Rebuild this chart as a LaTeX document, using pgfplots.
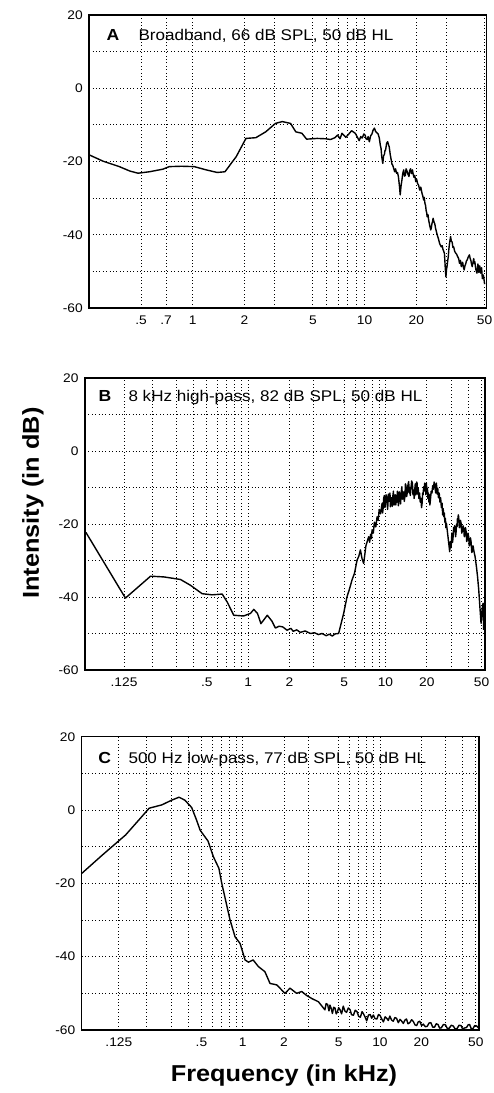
\documentclass[border=0pt]{standalone}
\usepackage{pgfplots}
\pgfplotsset{compat=1.18}
\usepackage{fontspec}
\setmainfont{Liberation Sans}[FakeStretch=1.1]

\pgfplotsset{
  myspectrum/.style={
    scale only axis, anchor=south west,
    ymin=-60, ymax=20,
    ytick={-60,-40,-20,0,20},
    yticklabels={-60,-40,-20,0,20},
    minor ytick={-50,-30,-10,10},
    grid=both,
    major grid style={black, line width=0.8pt, dash pattern=on 0.8pt off 2.6pt},
    minor grid style={black, line width=0.8pt, dash pattern=on 0.8pt off 2.6pt},
    axis line style={line width=1.6pt},
    major tick length=0pt, minor tick length=0pt,
    tick label style={font=\fontsize{12.5}{13}\selectfont},
    xticklabel style={yshift=-4pt},
    yticklabel style={xshift=-3pt},
  },
}
\tikzset{
  mycurve/.style={black, line width=1.4pt, line join=round},
  myttl/.style={anchor=base west, font=\fontsize{15.5}{16}\selectfont},
  myltr/.style={anchor=base west, font=\fontsize{16}{16}\selectfont\bfseries},
}

\begin{document}
\begin{tikzpicture}
\useasboundingbox (0pt,0pt) rectangle (493pt,1093pt);

% ---------------- Panel A ----------------
\begin{axis}[xmode=log, myspectrum, at={(89.3pt,785pt)}, width=397.4pt, height=293pt,
  xmin=0.25, xmax=51.4,
  xtick={0.5,0.7,1,2,5,10,20,50}, xticklabels={.5,.7,1,2,5,10,20,50},
  minor xtick={3,6,7,8,9,30}]
\addplot[mycurve] coordinates {
(0.25,-18.2) (0.30,-19.9) (0.374,-21.4) (0.43,-22.6) (0.48,-23.2) (0.56,-22.8)
(0.67,-22.1) (0.73,-21.4) (0.86,-21.3) (1.02,-21.4) (1.2,-22.3) (1.39,-23.0)
(1.54,-22.8) (1.79,-18.7) (2.04,-13.7) (2.33,-13.5) (2.66,-11.9) (3.03,-9.6)
(3.32,-9.1) (3.71,-9.6) (3.98,-11.9) (4.32,-12.3) (4.6,-13.9) (5.3,-13.7)
(5.95,-13.8) (6.34,-14.0) (6.72,-13.5) (6.97,-12.8) (7.2,-13.8) (7.39,-12.3)
(7.78,-13.4) (8.06,-12.6) (8.41,-11.6) (8.83,-12.3) (9.31,-14.3) (9.5,-13.2)
(9.7,-13.6) (9.9,-12.5) (10.08,-12.8) (10.2,-13.8) (10.37,-14.0) (10.5,-13.2)
(10.66,-14.6) (10.85,-13.0) (11.04,-12.5) (11.2,-11.5) (11.42,-10.9) (11.6,-11.8)
(11.81,-12.2) (12.0,-12.5) (12.19,-13.6) (12.35,-15.5) (12.48,-16.5) (12.6,-18.8)
(12.77,-20.5) (12.9,-18.5) (13.06,-18.0) (13.15,-17.0) (13.25,-16.9) (13.45,-15.0)
(13.63,-14.6) (13.8,-15.5) (13.92,-16.0) (14.1,-18.0) (14.3,-19.6) (14.45,-20.8)
(14.59,-21.0) (14.8,-22.0) (14.98,-22.8) (15.15,-22.0) (15.36,-23.2) (15.55,-23.0)
(15.74,-24.1) (15.95,-26.5) (16.13,-29.1) (16.3,-26.8) (16.51,-25.0) (16.7,-23.2)
(16.9,-22.3) (17.1,-24.0) (17.28,-23.8) (17.45,-22.0) (17.66,-22.6) (17.9,-23.5)
(18.14,-24.1) (18.3,-22.5) (18.53,-22.0) (18.75,-23.3) (19.01,-22.3) (19.2,-23.5)
(19.39,-24.3) (19.6,-23.8) (19.87,-25.5) (20.1,-24.8) (20.35,-26.0) (20.65,-26.5)
(20.93,-27.8) (21.25,-27.0) (21.6,-28.7) (21.85,-29.5) (22.08,-30.5) (22.25,-29.8)
(22.46,-31.4) (22.65,-32.0) (22.85,-33.5) (23.0,-34.0) (23.14,-35.1) (23.4,-34.5)
(23.62,-36.0) (23.95,-37.5) (24.29,-38.7) (24.5,-38.0) (24.67,-37.0) (24.85,-36.5)
(25.06,-35.5) (25.35,-36.5) (25.63,-37.0) (25.9,-38.2) (26.21,-39.2) (26.55,-40.2)
(26.88,-41.0) (27.4,-42.5) (27.94,-43.3) (28.3,-43.0) (28.61,-44.0) (28.9,-44.5)
(29.18,-45.1) (29.45,-48.5) (29.76,-51.5) (30.0,-49.5) (30.24,-48.5) (30.5,-47.0)
(30.72,-46.0) (30.95,-44.0) (31.2,-42.5) (31.45,-41.5) (31.68,-40.5) (32.0,-41.8)
(32.35,-42.0) (32.7,-43.5) (33.02,-43.3) (33.45,-44.5) (33.89,-45.0) (34.35,-45.3)
(34.85,-46.0) (35.3,-46.5) (35.71,-47.8) (36.15,-47.0) (36.58,-48.7) (36.9,-48.0)
(37.25,-47.5) (37.6,-48.8) (38.02,-49.6) (38.4,-48.5) (38.78,-48.0) (39.15,-47.2)
(39.55,-46.9) (40.2,-46.0) (40.8,-45.5) (41.2,-46.5) (41.57,-47.0) (41.95,-48.0)
(42.34,-48.7) (42.8,-47.5) (43.2,-46.5) (43.5,-47.8) (43.87,-47.4) (44.15,-48.5)
(44.45,-49.5) (44.8,-50.0) (45.12,-50.5) (45.4,-49.2) (45.7,-48.0) (46.0,-49.0)
(46.27,-50.3) (46.8,-48.5) (47.5,-50.5) (48.0,-49.0) (48.5,-52.0) (49.2,-51.0)
(50.0,-53.5)
};
\node[myltr] at (rel axis cs:0.035,0.912) {A};
\node[myttl] at (rel axis cs:0.115,0.912) {Broadband, 66 dB SPL, 50 dB HL};
\end{axis}

% ---------------- Panel B ----------------
\begin{axis}[xmode=log, myspectrum, at={(85pt,423pt)}, width=400pt, height=292pt,
  xmin=0.065, xmax=53,
  xtick={0.125,0.5,1,2,5,10,20,50}, xticklabels={.125,.5,1,2,5,10,20,50},
  minor xtick={0.2,0.3,0.4,0.6,0.7,0.8,0.9,3,6,7,8,9,30,40}]
\addplot[mycurve] coordinates {
(0.066,-22.3) (0.128,-40.3) (0.195,-34.3) (0.244,-34.5) (0.322,-35.2) (0.381,-36.8)
(0.463,-39.1) (0.547,-39.4) (0.648,-39.2) (0.705,-41.4) (0.786,-45.0) (0.928,-45.2)
(1.04,-44.5) (1.10,-43.4) (1.17,-44.5) (1.24,-47.3) (1.38,-45.0) (1.49,-46.6)
(1.58,-48.5) (1.68,-48.0) (1.79,-48.2) (1.92,-49.1) (2.05,-48.6) (2.13,-49.4)
(2.26,-49.0) (2.40,-49.7) (2.6,-49.3) (2.84,-50.0) (3.05,-49.8) (3.25,-50.3)
(3.45,-50.0) (3.7,-50.6) (3.9,-50.2) (4.1,-50.7) (4.3,-50.1) (4.56,-50.0)
(4.96,-44.5) (5.25,-39.9) (5.45,-38.0) (5.71,-35.3) (5.95,-33.5) (6.21,-29.9)
(6.4,-28.8) (6.57,-27.1) (6.75,-29.5) (6.94,-30.8) (7.2,-26.0) (7.54,-23.5)
(7.67,-25.0) (7.8,-22.8) (7.9,-24.0) (7.99,-21.6) (8.15,-22.5) (8.3,-19.5)
(8.5,-20.8) (8.69,-18.0) (8.85,-19.0) (9.0,-16.0) (9.2,-17.2) (9.45,-14.3)
(9.53,-17.0) (9.6,-15.8) (9.7,-13.0) (9.8,-12.2) (9.9,-15.5) (10.0,-14.5)
(10.1,-12.0) (10.27,-13.0) (10.35,-16.0) (10.4,-15.0) (10.5,-11.8) (10.6,-13.8)
(10.7,-13.5) (10.78,-11.5) (10.86,-15.3) (10.95,-13.0) (11.1,-12.8) (11.2,-15.2)
(11.3,-12.5) (11.42,-11.0) (11.55,-14.8) (11.68,-12.5) (11.81,-12.0) (11.88,-14.8)
(11.95,-13.5) (12.1,-14.0) (12.2,-11.0) (12.3,-11.8) (12.4,-15.0) (12.48,-14.3)
(12.6,-11.2) (12.75,-12.5) (12.88,-14.5) (13.0,-11.5) (13.15,-9.8) (13.3,-13.2)
(13.45,-12.0) (13.57,-11.2) (13.7,-13.8) (13.85,-12.5) (13.97,-9.0) (14.1,-9.5)
(14.25,-12.5) (14.4,-11.5) (14.58,-9.2) (14.75,-8.4) (14.88,-11.5) (15.0,-10.0)
(15.15,-12.2) (15.3,-10.5) (15.5,-8.2) (15.7,-8.8) (15.85,-12.0) (16.04,-10.7)
(16.15,-13.0) (16.3,-12.0) (16.4,-9.5) (16.5,-9.0) (16.62,-12.0) (16.75,-11.0)
(16.85,-8.5) (16.98,-8.8) (17.15,-11.8) (17.3,-10.2) (17.5,-13.0) (17.7,-11.5)
(17.9,-14.0) (18.1,-13.0) (18.3,-15.5) (18.47,-14.3) (18.65,-11.5) (18.8,-12.0)
(18.95,-9.8) (19.1,-11.0) (19.3,-8.8) (19.5,-9.8) (19.7,-12.0) (19.85,-8.8)
(20.0,-11.0) (20.2,-10.2) (20.35,-13.0) (20.5,-11.5) (20.7,-14.0) (20.9,-12.0)
(21.05,-14.8) (21.23,-13.4) (21.5,-11.0) (21.8,-11.5) (22.05,-9.5) (22.3,-10.5)
(22.6,-8.5) (22.9,-9.5) (23.2,-11.5) (23.48,-8.8) (23.75,-11.8) (24.0,-10.2)
(24.3,-12.8) (24.6,-11.5) (24.9,-14.0) (25.2,-12.8) (25.5,-15.5) (25.82,-14.3)
(26.05,-17.5) (26.3,-15.8) (26.55,-18.0) (26.8,-17.0) (27.05,-19.5) (27.3,-18.5)
(27.5,-21.0) (27.75,-19.8) (28.1,-21.5) (28.5,-23.5) (28.9,-25.5) (29.33,-27.6)
(29.55,-25.0) (29.8,-24.8) (30.0,-26.5) (30.2,-25.0) (30.4,-22.5) (30.6,-23.0)
(30.8,-25.0) (31.05,-23.5) (31.3,-21.0) (31.6,-22.0) (31.85,-20.5) (32.1,-21.5)
(32.35,-23.5) (32.6,-22.5) (32.9,-20.0) (33.2,-20.7) (33.4,-18.5) (33.6,-19.5)
(33.85,-17.5) (34.1,-18.0) (34.45,-21.0) (34.8,-20.5) (35.15,-19.0) (35.5,-19.8)
(35.9,-22.5) (36.3,-21.8) (36.7,-20.5) (37.1,-21.2) (37.45,-23.5) (37.8,-22.8)
(38.2,-21.0) (38.6,-22.0) (39.0,-24.8) (39.4,-24.2) (39.85,-22.5) (40.3,-23.5)
(40.7,-26.0) (41.1,-25.5) (41.55,-23.8) (42.0,-25.0) (42.45,-27.8) (42.9,-27.5)
(43.4,-26.0) (43.85,-27.1) (44.9,-29.0) (45.9,-31.7) (46.8,-34.5) (47.7,-38.0)
(48.8,-43.5) (49.6,-47.2) (50.5,-43.5) (51.3,-41.7) (51.8,-49.0)
};
\node[myltr] at (rel axis cs:0.025,0.919) {B};
\node[myttl] at (rel axis cs:0.1,0.919) {8 kHz high-pass, 82 dB SPL, 50 dB HL};
\end{axis}

% ---------------- Panel C ----------------
\begin{axis}[xmode=log, myspectrum, at={(81.7pt,63pt)}, width=397.3pt, height=293.3pt,
  xmin=0.067, xmax=52.7,
  xtick={0.125,0.5,1,2,5,10,20,50}, xticklabels={.125,.5,1,2,5,10,20,50},
  minor xtick={0.2,0.3,0.4,0.6,0.7,0.8,0.9,3,6,7,8,9,30,40}]
\addplot[mycurve] coordinates {
(0.067,-17.3) (0.0946,-12.3) (0.14,-6.8) (0.175,-2.7) (0.208,0.5) (0.257,1.4)
(0.304,2.7) (0.343,3.5) (0.378,2.7) (0.424,0.7) (0.46,-2.7) (0.489,-5.5)
(0.559,-8.5) (0.61,-12.7) (0.67,-15.9) (0.703,-20.0) (0.808,-30.0) (0.879,-34.6)
(0.956,-36.4) (1.04,-40.9) (1.1,-41.5) (1.19,-40.9) (1.3,-42.7) (1.45,-44.1)
(1.58,-47.3) (1.77,-47.7) (2.03,-50.0) (2.21,-48.6) (2.47,-50.0) (2.69,-49.5)
(2.9,-50.5) (3.18,-51.4) (3.56,-52.3) (3.97,-54.5) (4.05,-52.8) (4.15,-53.0)
(4.25,-54.8) (4.32,-53.2) (4.42,-54.2) (4.5,-55.5) (4.6,-53.8) (4.7,-54.0)
(4.8,-55.6) (4.9,-55.0) (5.0,-53.9) (5.12,-54.5) (5.25,-55.6) (5.4,-53.5)
(5.55,-54.8) (5.7,-55.2) (5.88,-54.0) (6.06,-54.5) (6.2,-55.8) (6.4,-56.0)
(6.6,-54.6) (6.8,-55.0) (7.0,-56.3) (7.2,-56.5) (7.4,-55.0) (7.56,-55.5)
(7.78,-56.4) (8.0,-57.5) (8.25,-55.9) (8.5,-55.8) (8.7,-56.8) (8.95,-55.9)
(9.2,-56.9) (9.5,-57.0) (9.75,-55.8) (10.0,-56.0) (10.3,-57.0) (10.6,-57.8)
(10.9,-56.4) (11.2,-56.8) (11.5,-57.4) (11.8,-56.2) (12.15,-57.3) (12.5,-57.6)
(12.85,-56.6) (13.2,-56.8) (13.6,-58.0) (14.0,-57.1) (14.4,-57.6) (14.8,-58.2)
(15.2,-57.3) (15.6,-57.0) (16.0,-58.3) (16.5,-58.0) (17.0,-57.2) (17.5,-57.7)
(18.0,-58.6) (18.5,-58.8) (19.0,-57.8) (19.5,-57.6) (20.1,-58.8) (20.7,-58.4)
(21.4,-59.1) (22.1,-59.0) (22.8,-58.1) (23.5,-58.0) (24.2,-59.2) (25.0,-59.2)
(25.7,-58.3) (26.5,-58.5) (27.2,-59.5) (28.0,-59.4) (29.0,-58.5) (30.0,-58.6)
(31.0,-59.6) (32.0,-59.5) (33.1,-58.7) (34.2,-58.9) (35.3,-59.7) (36.5,-59.6)
(37.7,-58.7) (39.0,-58.8) (40.0,-59.7) (41.0,-59.5) (42.8,-59.3) (43.9,-58.6)
(45.0,-58.5) (46.2,-59.6) (47.5,-59.7) (49.0,-58.8) (50.7,-58.9) (52.5,-59.5)
};
\node[myltr] at (rel axis cs:0.033,0.909) {C};
\node[myttl] at (rel axis cs:0.109,0.909) {500 Hz low-pass, 77 dB SPL, 50 dB HL};
\end{axis}

\node[rotate=90, font=\fontsize{23}{24}\selectfont\bfseries] at (33pt,590pt) {Intensity (in dB)};
\node[anchor=base, font=\fontsize{23}{24}\selectfont\bfseries] at (284pt,11.3pt) {Frequency (in kHz)};
\end{tikzpicture}
\end{document}
